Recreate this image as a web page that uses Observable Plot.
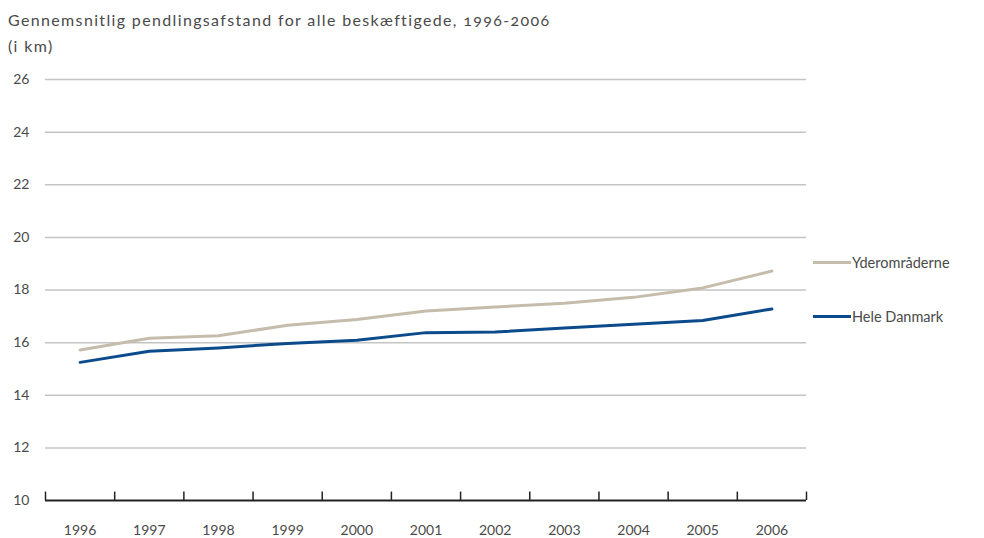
<!DOCTYPE html>
<html>
<head>
<meta charset="utf-8">
<script src="https://cdn.jsdelivr.net/npm/d3@7"></script>
<script src="https://cdn.jsdelivr.net/npm/@observablehq/plot@0.6"></script>
<style>
  html, body { margin: 0; padding: 0; background: #fff; }
  body { width: 984px; height: 538px; position: relative; overflow: hidden; font-family: Lato, "Open Sans", sans-serif; color: #4a4a4a; font-variant-numeric: oldstyle-nums; }
  #title { position: absolute; left: 8px; top: 7px; font-size: 16px; letter-spacing: 1.35px; line-height: 26px; color: #4a4a4a; }
  #chart { position: absolute; left: 0; top: 58px; }
  #legend { position: absolute; left: 813px; top: 0; font-size: 14.5px; letter-spacing: 0; color: #4a4a4a; }
  .item { position: absolute; left: 0; white-space: nowrap; display: flex; align-items: center; }
  .sw { width: 38px; height: 3px; margin-right: 1px; }
</style>
</head>
<body>
<div id="title">Gennemsnitlig pendlingsafstand for alle beskæftigede, 1996-2006<br>(i km)</div>
<div id="chart"></div>
<div id="legend"></div>
<script>
const years = [1996, 1997, 1998, 1999, 2000, 2001, 2002, 2003, 2004, 2005, 2006];
const yderomraaderne = [15.72, 16.17, 16.26, 16.66, 16.88, 17.2, 17.35, 17.5, 17.72, 18.08, 18.72];
const heleDanmark = [15.25, 15.67, 15.8, 15.97, 16.09, 16.38, 16.4, 16.56, 16.7, 16.84, 17.28];
const seriesNames = ["Yderområderne", "Hele Danmark"];
const seriesColors = ["#c6bcab", "#0b4a8b"];
const yTicks = [10, 12, 14, 16, 18, 20, 22, 24, 26];
const gridTicks = [12, 14, 16, 18, 20, 22, 24, 26];
const bandEdges = [1995.5, 1996.5, 1997.5, 1998.5, 1999.5, 2000.5, 2001.5, 2002.5, 2003.5, 2004.5, 2005.5, 2006.5];

const data = [];
years.forEach((yr, i) => {
  data.push({year: yr, value: yderomraaderne[i], series: seriesNames[0]});
  data.push({year: yr, value: heleDanmark[i], series: seriesNames[1]});
});

const chart = Plot.plot({
  width: 984,
  height: 480,
  marginLeft: 45,
  marginRight: 178,
  marginTop: 21,
  marginBottom: 38,
  style: {fontFamily: "Lato, 'Open Sans', sans-serif", fontSize: "14px", color: "#4a4a4a", background: "#fff"},
  x: {type: "linear", domain: [1995.5, 2006.5]},
  y: {domain: [10, 26]},
  color: {domain: seriesNames, range: seriesColors},
  marks: [
    Plot.ruleY(gridTicks, {stroke: "#c4c4c4", strokeWidth: 1.5}),
    Plot.axisY({ticks: yTicks, tickSize: 0, tickPadding: 16, label: null, fontSize: 14}),
    Plot.axisX({ticks: years, tickSize: 0, tickPadding: 25, tickFormat: d => String(d), label: null, fontSize: 14}),
    Plot.ruleX(bandEdges, {y1: 10, y2: 10.32, stroke: "#222", strokeWidth: 1.5}),
    Plot.ruleY([10], {stroke: "#222", strokeWidth: 2}),
    Plot.line(data, {x: "year", y: "value", stroke: "series", z: "series", strokeWidth: 3, curve: "linear"})
  ]
});
document.getElementById("chart").appendChild(chart);

const legendTops = [264 - 10, 318 - 10];
const legend = document.getElementById("legend");
seriesNames.forEach((name, i) => {
  const item = document.createElement("div");
  item.className = "item";
  item.style.top = legendTops[i] + "px";
  item.innerHTML = `<span class="sw" style="background:${seriesColors[i]}"></span><span>${name}</span>`;
  legend.appendChild(item);
});
</script>
</body>
</html>
